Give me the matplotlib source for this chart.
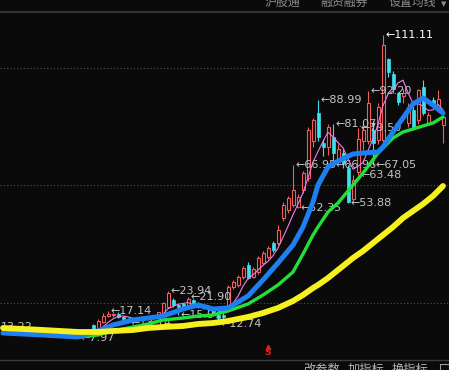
import matplotlib
matplotlib.use('Agg')
import matplotlib.pyplot as plt
from matplotlib.patches import Rectangle
import numpy as np

# ---------------- data ----------------
opens = [10.8, 10.5, 10.2, 10.6, 10.3, 10.0, 10.3, 10.1, 9.8, 10.0,
         9.7, 9.4, 9.6, 9.2, 9.0, 8.8, 8.5, 9.2, 12.5, 10.9,
         13.5, 15.6, 15.8, 16.4, 15.2, 14.5, 13.8, 14.3, 14.7, 14.5,
         15.2, 15.0, 16.0, 18.6, 21.0, 19.3, 19.6, 19.3, 21.0, 19.8,
         18.8, 18.2, 17.6, 15.9, 16.0, 18.6, 25.4, 26.1, 28.8, 32.9,
         29.0, 30.5, 33.6, 35.6, 40.4, 40.4, 48.9, 51.6, 53.4, 52.7,
         58.5, 62.5, 75.0, 84.7, 74.5, 73.0, 76.5, 68.0, 71.0, 66.0,
         55.5, 64.5, 75.0, 75.0, 79.0, 75.5, 75.5, 103.0, 98.0, 91.5,
         90.5, 81.2, 85.7, 82.3, 93.5, 81.3, 89.1, 85.7, 80.6]
highs = [11.3, 10.9, 10.8, 11.0, 10.6, 10.5, 10.7, 10.4, 10.3, 10.4,
         10.0, 9.9, 9.9, 9.6, 9.5, 9.3, 9.4, 10.4, 12.8, 14.5,
         16.5, 17.14, 16.6, 16.8, 15.6, 15.0, 14.6, 15.0, 15.3, 15.5,
         15.8, 17.0, 20.5, 23.94, 21.8, 19.8, 20.1, 21.90, 21.5, 20.2,
         19.3, 18.8, 18.0, 16.3, 16.5, 26.0, 27.8, 29.5, 32.5, 34.0,
         32.2, 36.0, 37.8, 39.5, 41.0, 46.5, 54.4, 56.5, 66.95, 57.0,
         65.0, 80.0, 83.0, 88.99, 76.0, 81.0, 81.07, 74.0, 72.5, 67.0,
         63.5, 79.50, 80.0, 92.20, 82.0, 88.0, 111.11, 103.5, 99.0, 92.0,
         93.0, 88.0, 87.0, 93.0, 95.9, 85.0, 90.0, 92.5, 84.0]
lows = [10.3, 10.0, 9.9, 10.1, 9.8, 9.7, 9.9, 9.6, 9.5, 9.6,
        9.2, 9.1, 9.0, 8.8, 8.6, 7.97, 8.3, 9.0, 10.5, 10.6,
        13.2, 15.2, 15.1, 14.8, 14.0, 13.14, 13.6, 13.8, 14.2, 14.1,
        14.6, 14.8, 15.5, 18.2, 18.8, 15.97, 17.5, 18.8, 19.0, 18.3,
        17.8, 17.2, 16.4, 12.74, 14.6, 18.2, 24.8, 25.5, 28.2, 28.0,
        28.5, 30.0, 33.0, 35.0, 37.5, 39.8, 48.0, 50.5, 52.8, 52.35,
        57.5, 61.5, 73.0, 75.0, 70.0, 70.5, 66.96, 67.5, 66.0, 53.88,
        55.0, 63.48, 72.0, 74.0, 67.05, 74.0, 74.5, 97.0, 91.5, 87.5,
        88.0, 80.0, 79.0, 81.0, 84.0, 80.5, 86.5, 85.0, 74.4]
closes = [10.5, 10.2, 10.6, 10.3, 10.0, 10.3, 10.1, 9.8, 10.0, 9.7,
          9.4, 9.6, 9.2, 9.0, 8.8, 8.5, 9.2, 10.2, 10.9, 13.8,
          15.5, 16.4, 16.3, 15.2, 14.5, 13.8, 14.3, 14.7, 14.5, 15.2,
          14.9, 16.8, 19.9, 23.3, 19.3, 18.5, 18.2, 21.5, 19.5, 18.8,
          18.2, 17.8, 17.0, 14.9, 15.3, 25.4, 27.1, 28.8, 31.9, 28.5,
          31.5, 35.3, 37.0, 38.7, 38.0, 44.8, 53.3, 55.7, 58.5, 56.0,
          64.2, 78.9, 82.3, 76.5, 73.0, 80.0, 71.0, 72.5, 67.7, 54.5,
          62.0, 76.0, 79.0, 88.0, 74.5, 86.7, 107.8, 98.5, 93.0, 88.5,
          91.5, 86.7, 80.0, 92.5, 84.7, 84.0, 87.4, 89.5, 83.3]

ma_idx = [0, 8, 15, 19, 22, 26, 29, 32, 36, 39, 42, 45, 49, 52, 55, 58,
          60, 62, 63, 65, 67, 70, 72, 75, 76, 78, 80, 82, 84, 86, 88]
ma_yellow = [11.49, 10.81, 10.13, 10.13, 10.47, 10.81, 11.49, 11.83, 12.17, 12.85,
             13.19, 13.87, 15.23, 16.60, 18.30, 20.68, 22.72, 25.11, 26.13, 28.51,
             31.23, 35.32, 37.70, 41.79, 43.15, 45.87, 48.94, 51.32, 53.70, 56.43, 59.83]
ma_green = [9.79, 9.45, 8.43, 9.11, 10.47, 11.83, 12.85, 14.21, 14.89, 15.57,
            15.91, 17.28, 19.66, 22.72, 26.13, 30.55, 36.68, 43.15, 45.87, 50.98,
            54.04, 60.17, 64.26, 71.06, 72.77, 76.17, 78.21, 79.23, 80.26, 81.28, 83.32]
ma_blue = [9.79, 9.11, 8.43, 10.47, 12.51, 14.21, 14.89, 15.57, 17.96, 19.32,
           17.96, 18.30, 22.38, 27.83, 33.62, 39.74, 45.87, 54.38, 60.17, 66.30,
           68.34, 70.72, 71.06, 71.40, 73.11, 78.21, 82.98, 87.74, 89.79, 87.40, 84.68]

label_idx = [76, 73, 63, 66, 71, 58, 66, 74, 71, 59, 69, 33, 37, 21, 35, 25, 43, 15]
label_val = [111.11, 92.20, 88.99, 81.07, 79.50, 66.95, 66.96, 67.05, 63.48, 52.35,
             53.88, 23.94, 21.90, 17.14, 15.97, 13.14, 12.74, 7.97]
grid_levels = [20, 60, 100]
top_tabs = ['沪股通', '融资融券', '设置均线']
bottom_tabs = ['改参数', '加指标', '换指标']

# ---------------- style ----------------
W, H = 449, 370
BG = '#0a0a0a'
RED = '#f45c5c'
CYAN = '#3fe0ee'
CJK = ['Noto Sans CJK SC', 'DejaVu Sans']

fig = plt.figure(figsize=(W / 100, H / 100), dpi=100, facecolor=BG)
ax = fig.add_axes([0, 0, 1, 1])
ax.set_facecolor(BG)
ax.set_xlim(-0.6, 89.2)
ax.set_ylim(-2.81, 123.15)
ax.axis('off')

# grid
for g in grid_levels:
    ax.axhline(g, color='#6a4848', lw=0.8, ls=(0, (1, 2)), zorder=1)

# candles
n = len(opens)
bw = 0.6
for i in range(n):
    o, h, l, c = opens[i], highs[i], lows[i], closes[i]
    if c >= o:
        ax.vlines(i, c, h, color=RED, lw=0.8, zorder=2)
        ax.vlines(i, l, o, color=RED, lw=0.8, zorder=2)
        ax.add_patch(Rectangle((i - bw / 2, o), bw, max(c - o, 0.15),
                               facecolor=BG, edgecolor=RED, lw=0.8, zorder=2))
    else:
        ax.vlines(i, l, h, color=CYAN, lw=0.8, zorder=2)
        ax.add_patch(Rectangle((i - bw / 2, c), bw, o - c,
                               facecolor=CYAN, edgecolor=CYAN, lw=0.5, zorder=2))

# labels
for k, v in zip(label_idx, label_val):
    col = 'white' if v == max(label_val) else '#c4c4c4'
    ax.text(k + 0.45, v, '←' + f'{v:.2f}', color=col, fontsize=8,
            ha='left', va='center', zorder=3)
ax.text(-0.4, 11.83, '13.22', color='#c4c4c4', fontsize=8, ha='left',
        va='center', zorder=3)

# moving averages
cl = np.array(closes)
ma5 = np.convolve(cl, np.ones(5) / 5, mode='valid')
ax.plot(np.arange(4, n), ma5, color='#f07cf0', lw=0.8, zorder=4)
ax.plot(ma_idx, ma_green, color='#22e03a', lw=2.4, zorder=5, solid_capstyle='round')
ax.plot(ma_idx, ma_blue, color='#1e7ff0', lw=3.6, zorder=6, solid_capstyle='round')
ax.plot(ma_idx, ma_yellow, color='#f5f01e', lw=4.2, zorder=7, solid_capstyle='round')

# overlay in pixel coordinates for UI chrome
ov = fig.add_axes([0, 0, 1, 1], facecolor='none')
ov.set_xlim(0, W)
ov.set_ylim(H, 0)
ov.axis('off')
ov.plot([0, W], [11.5, 11.5], color='#3c3c3c', lw=1.2)
ov.plot([0, W], [359.5, 359.5], color='#3c3c3c', lw=1.0)
for txt, x in zip(top_tabs, [265, 320, 388]):
    ov.text(x, 8.5, txt, color='#8c8c8c', fontsize=8.6, family=CJK,
            ha='left', va='bottom')
ov.text(441, 4, '▼', color='#8c8c8c', fontsize=5, ha='left', va='center')
for txt, x in zip(bottom_tabs, [303, 348, 392]):
    ov.text(x, 362.5, txt, color='#b4b4b4', fontsize=8.8, family=CJK,
            ha='left', va='top')
ov.add_patch(Rectangle((440, 364), 9, 9, facecolor='none', edgecolor='#9a9a9a', lw=0.8))
ov.plot([268], [346.5], marker='^', color='#e02020', ms=3.2)
ov.text(268, 352.5, 'S', color='#e02020', fontsize=6.5, fontweight='bold',
        ha='center', va='center')

fig.savefig('out.png', dpi=100, facecolor=BG)
